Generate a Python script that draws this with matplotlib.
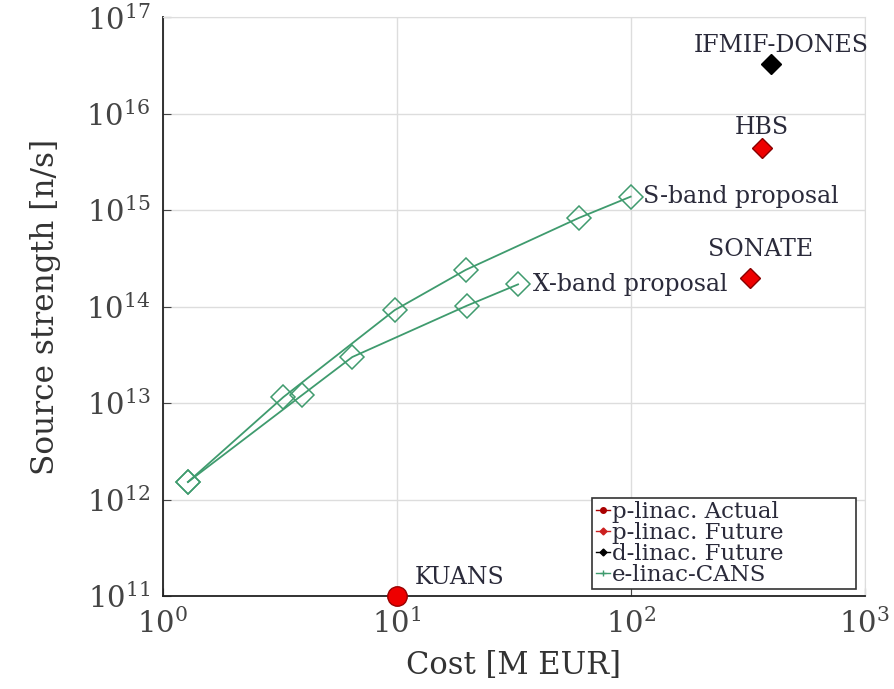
import numpy as np
import matplotlib
matplotlib.use('Agg')
import matplotlib.pyplot as plt

# ------------------------------ #
# Dades llegides de la figura
# ------------------------------ #
s_cost = [1.28, 3.27, 9.8, 19.7, 60, 100]
s_strength = [1.52e12, 1.15e13, 9.2e13, 2.4e14, 8.3e14, 1.38e15]

x_cost = [1.28, 3.92, 6.45, 19.9, 33]
x_strength = [1.52e12, 1.2e13, 3.0e13, 1.02e14, 1.7e14]

p_act_names = ['KUANS']
p_act_cost = [10]
p_act_strength = [1e11]

p_fut_names = ['HBS', 'SONATE']
p_fut_cost = [365, 323]
p_fut_strength = [4.4e15, 2.0e14]

d_fut_names = ['IFMIF-DONES']
d_fut_cost = [400]
d_fut_strength = [3.3e16]

plt.rcParams['font.family'] = ['DejaVu Serif']
plt.rcParams['mathtext.fontset'] = 'cm'

green = '#3f9b6e'
txt_col = '#2a2a3a'

fig = plt.figure(figsize=(8.95, 6.89), dpi=100)
ax = fig.add_axes([0.182, 0.135, 0.784, 0.84])

ax.plot(s_cost, s_strength, '-D', color=green, lw=1.3, ms=12, mfc='none', mew=1.1, zorder=3)
ax.plot(x_cost, x_strength, '-D', color=green, lw=1.3, ms=12, mfc='none', mew=1.1, zorder=3)
ax.plot(p_act_cost, p_act_strength, 'o', color='#ee0000', mec='#990000', ms=14, clip_on=False, zorder=5)
ax.plot(p_fut_cost, p_fut_strength, 'D', color='#ee0000', mec='#880000', ms=10, zorder=4)
ax.plot(d_fut_cost, d_fut_strength, 'D', color='black', ms=10, zorder=4)

# legend (només marcadors petits)
ax.plot([], [], '-o', color='#aa0000', ms=4, lw=1, label='p-linac. Actual')
ax.plot([], [], '-D', color='#cc2020', ms=3.5, lw=1, label='p-linac. Future')
ax.plot([], [], '-D', color='black', ms=3.5, lw=1, label='d-linac. Future')
ax.plot([], [], '-+', color=green, ms=4, lw=1, label='e-linac-CANS')

# textos
fs_txt = 17
ax.annotate('S-band proposal', (s_cost[-1], s_strength[-1]), xytext=(9, 0),
            textcoords='offset points', fontsize=fs_txt, va='center', ha='left', color=txt_col)
ax.annotate('X-band proposal', (x_cost[-1], x_strength[-1]), xytext=(11, 0),
            textcoords='offset points', fontsize=fs_txt, va='center', ha='left', color=txt_col)
ax.annotate(p_act_names[0], (p_act_cost[0], p_act_strength[0]), xytext=(13, 13),
            textcoords='offset points', fontsize=fs_txt, va='center', ha='left', color=txt_col)
for n, c, s, dx, dy in zip(p_fut_names, p_fut_cost, p_fut_strength, [0, 8], [15, 20]):
    ax.annotate(n, (c, s), xytext=(dx, dy), textcoords='offset points',
                fontsize=fs_txt, va='center', ha='center', color=txt_col)
for n, c, s in zip(d_fut_names, d_fut_cost, d_fut_strength):
    ax.annotate(n, (c, s), xytext=(7, 13), textcoords='offset points',
                fontsize=fs_txt, va='center', ha='center', color=txt_col)

ax.set_xscale('log')
ax.set_yscale('log')
ax.set_xlim(1, 1000)
ax.set_ylim(1e11, 1e17)
ax.set_xticks([1, 10, 100, 1000])
ax.set_yticks([1e11, 1e12, 1e13, 1e14, 1e15, 1e16, 1e17])
ax.minorticks_off()
ax.grid(True, color='#dddddd', lw=1)
ax.set_axisbelow(True)
ax.tick_params(direction='in', length=6, labelsize=21, colors='#444444', pad=9)
for sp in ['top', 'right']:
    ax.spines[sp].set_color('#dddddd')
for sp in ['left', 'bottom']:
    ax.spines[sp].set_color('#222222')
    ax.spines[sp].set_linewidth(1.3)

ax.set_xlabel('Cost [M EUR]', fontsize=22, color='#333333', labelpad=8)
ax.set_ylabel('Source strength [n/s]', fontsize=22.5, color='#333333', labelpad=18)

leg = ax.legend(loc='lower left', bbox_to_anchor=(0.612, 0.012, 0.376, 0), mode='expand',
                fontsize=16.5, handlelength=0.6, handletextpad=0.1,
                labelspacing=-0.05, borderpad=0.15, borderaxespad=0, fancybox=False,
                framealpha=1, edgecolor='#333333')
leg.get_frame().set_linewidth(1.2)
for t in leg.get_texts():
    t.set_color(txt_col)

plt.savefig('out.png', dpi=100)
